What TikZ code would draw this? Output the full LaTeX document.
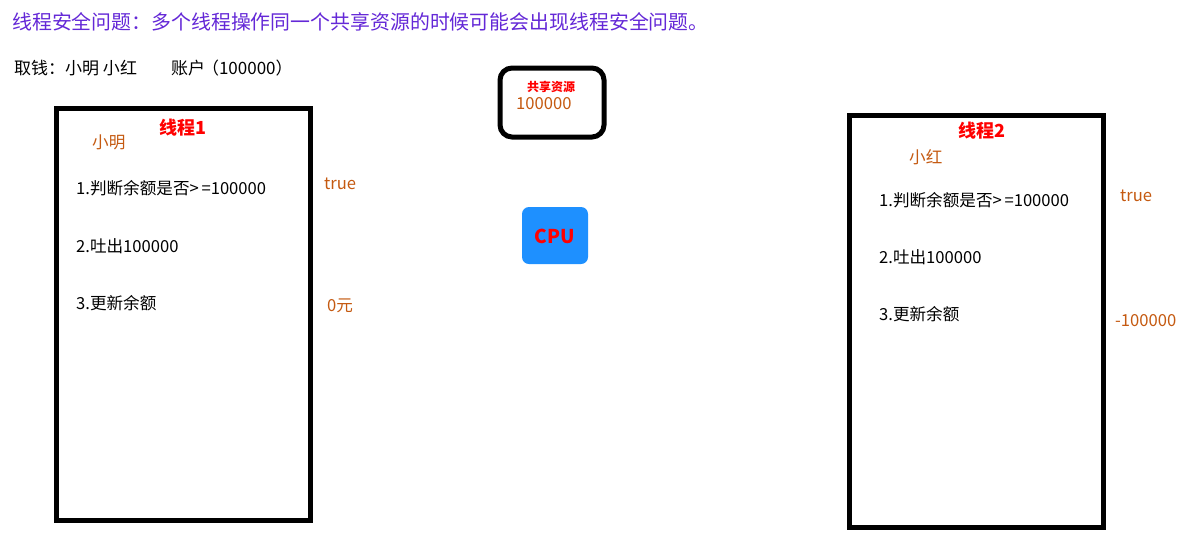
\documentclass[tikz,border=0pt]{standalone}
\usepackage{fontspec}
\setmainfont{Noto Sans CJK SC}
\definecolor{titlec}{RGB}{100,40,215}
\definecolor{orangec}{RGB}{197,90,17}
\definecolor{cpublue}{RGB}{30,144,255}
\begin{document}
\begin{tikzpicture}[x=1pt,y=-1pt,
  txt/.style={anchor=west,inner sep=0pt,font=\fontsize{16.6}{16.6}\selectfont},
  otxt/.style={txt,text=orangec},
  ttl/.style={inner sep=0pt,text=red,font=\fontsize{18}{18}\selectfont\bfseries},
  thread/.style={draw=black,line width=5pt,fill=white}]
\useasboundingbox[fill=white] (0,0) rectangle (1184,539);
\node[txt,anchor=west,text=titlec,font=\fontsize{19.9}{19.9}\selectfont] (title) at (12,22) {线程安全问题：多个线程操作同一个共享资源的时候可能会出现线程安全问题。};
\node[txt,font=\fontsize{17}{17}\selectfont] (info) at (14,68) {取钱：小明 小红\hspace{34pt}账户\hspace{-3pt}（100000）};
% thread 1
\draw[thread] (56,108) rectangle (310,520);
\node[ttl] (t1) at (183,128) {线程1};
\node[otxt] (p1) at (92,142) {小明};
\node[txt] (a1) at (76,188) {1.判断余额是否>\,=100000};
\node[txt] (b1) at (76,246) {2.吐出100000};
\node[txt] (c1) at (76,303) {3.更新余额};
\node[otxt] (r1) at (324,184) {true};
\node[otxt] (s1) at (327,306) {0元};
% shared resource
\draw[line width=5pt,rounded corners=12pt] (500,68) rectangle (604,137);
\node[inner sep=0pt,text=red,font=\fontsize{12}{12}\selectfont\bfseries] (sr) at (551,87) {共享资源};
\node[otxt] (sv) at (516,104) {100000};
% CPU
\fill[cpublue,rounded corners=7pt] (522,207) rectangle (588,264);
\node[inner sep=0pt,text=red,font=\fontsize{19}{19}\selectfont\bfseries] (cpu) at (555,236) {CPU};
% thread 2
\draw[thread] (849,115) rectangle (1103,527);
\node[ttl] (t2) at (982,131) {线程2};
\node[otxt] (p2) at (909,157) {小红};
\node[txt] (a2) at (879,200) {1.判断余额是否>\,=100000};
\node[txt] (b2) at (879,257) {2.吐出100000};
\node[txt] (c2) at (879,314) {3.更新余额};
\node[otxt] (r2) at (1120,196) {true};
\node[otxt] (s2) at (1115,321) {-100000};
\end{tikzpicture}
\end{document}
